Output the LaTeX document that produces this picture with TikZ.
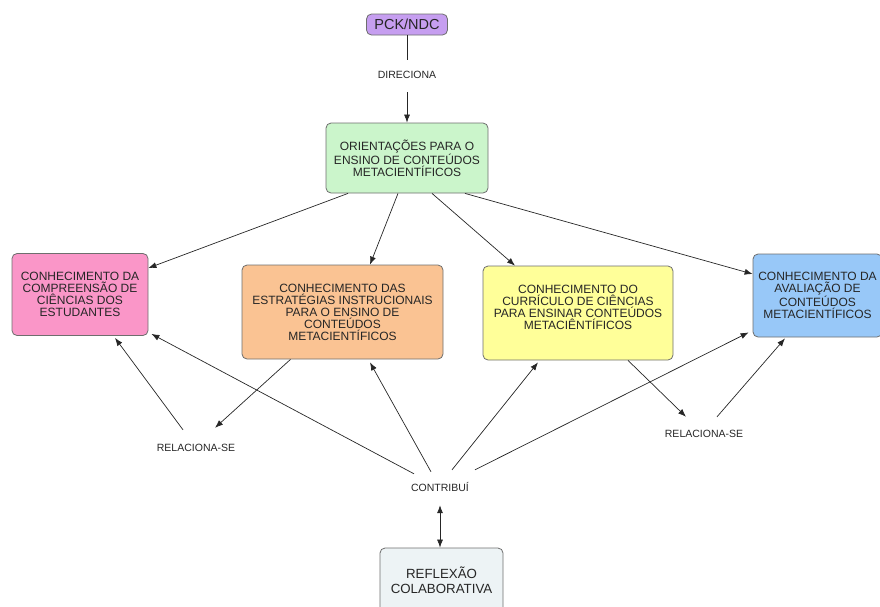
\documentclass[tikz,border=0pt]{standalone}
\usepackage{fontspec}
\setmainfont{Liberation Sans}
\usetikzlibrary{arrows.meta}

\definecolor{inkc}{HTML}{262626}
\definecolor{edgec}{HTML}{6E6E6E}
\definecolor{purplec}{HTML}{C69EF0}
\definecolor{greenc}{HTML}{CBF5CB}
\definecolor{pinkc}{HTML}{FA96C8}
\definecolor{orangec}{HTML}{FAC393}
\definecolor{yellowc}{HTML}{FFFF99}
\definecolor{bluec}{HTML}{98C8F8}
\definecolor{greyc}{HTML}{EDF3F5}

\tikzset{
  box/.style={draw=edgec, line width=0.8pt, rounded corners=5pt, align=center,
    text=inkc, inner sep=2pt, font=\fontsize{12}{12}\selectfont},
  lbl/.style={inner sep=0pt, text height=8pt, text depth=0pt, text=inkc,
    font=\fontsize{10.5}{10.5}\selectfont},
  conn/.style={draw=inkc, line width=0.7pt},
  arr/.style={conn, -{Latex[length=8pt,width=6pt]}},
  darr/.style={conn, {Latex[length=8pt,width=6pt]}-{Latex[length=8pt,width=6pt]}}
}

\begin{document}
\begin{tikzpicture}[x=1pt, y=-1pt]
\useasboundingbox (0,0) rectangle (880,606);

% concept boxes
\node[box, fill=purplec, minimum width=81pt, minimum height=21pt,
  font=\fontsize{14.5}{14.5}\selectfont] (pck) at (407,24.5) {PCK/NDC};
\node[box, fill=greenc, minimum width=162pt, minimum height=70pt] (orient) at (407,158)
  {ORIENTAÇÕES PARA O\\ENSINO DE CONTEÚDOS\\METACIENTÍFICOS};
\node[box, fill=pinkc, minimum width=136pt, minimum height=82pt] (compr) at (80,294.5)
  {CONHECIMENTO DA\\COMPREENSÃO DE\\CIÊNCIAS DOS\\ESTUDANTES};
\node[box, fill=orangec, minimum width=201pt, minimum height=94pt] (estrat) at (342.5,312)
  {CONHECIMENTO DAS\\ESTRATÉGIAS INSTRUCIONAIS\\PARA O ENSINO DE\\CONTEÚDOS\\METACIENTÍFICOS};
\node[box, fill=yellowc, minimum width=190pt, minimum height=94pt] (curric) at (578,313)
  {CONHECIMENTO DO\\CURRÍCULO DE CIÊNCIAS\\PARA ENSINAR CONTEÚDOS\\METACIÊNTÍFICOS\\\mbox{}};
\node[box, fill=bluec, minimum width=129pt, minimum height=83pt] (aval) at (817.5,295.5)
  {CONHECIMENTO DA\\AVALIAÇÃO DE\\CONTEÚDOS\\METACIENTÍFICOS};
\node[box, fill=greyc, minimum width=123pt, minimum height=64pt,
  font=\fontsize{13.3}{15}\selectfont] (reflex) at (441.5,580)
  {REFLEXÃO\\COLABORATIVA};

% linking phrases
\node[lbl] (dir) at (407,74) {DIRECIONA};
\node[lbl] (contrib) at (440,487) {CONTRIBUÍ};
\node[lbl] (relL) at (196,447) {RELACIONA-SE};
\node[lbl] (relR) at (704,433) {RELACIONA-SE};

% PCK/NDC directs the orientations
\draw[conn] (pck.south) -- ([yshift=10pt]dir.north);
\draw[arr] ([yshift=-14pt]dir.south) -- (orient.north);

% orientations towards the four knowledge components
\draw[arr] ([xshift=-59pt]orient.south) -- ([yshift=26.5pt]compr.east);
\draw[arr] ([xshift=-9pt]orient.south) -- ([xshift=27.5pt]estrat.north);
\draw[arr] ([xshift=25pt]orient.south) -- ([xshift=-63pt]curric.north);
\draw[arr] ([xshift=58pt]orient.south) -- ([yshift=21.5pt]aval.west);

% left relation
\draw[arr] ([xshift=-52pt]estrat.south) -- ([xshift=19pt,yshift=15pt]relL.north);
\draw[arr] ([xshift=-13pt,yshift=13pt]relL.north) -- ([xshift=35pt,yshift=-2pt]compr.south);

% right relation
\draw[arr] ([xshift=50pt]curric.south) -- ([xshift=-18pt,yshift=12pt]relR.north);
\draw[arr] ([xshift=13pt,yshift=12pt]relR.north) -- ([xshift=-32.5pt,yshift=-1pt]aval.south);

% contributions of the collaborative reflection
\draw[arr] ([xshift=-26pt,yshift=9pt]contrib.north) -- ([xshift=3pt,yshift=2pt]compr.south east);
\draw[arr] ([xshift=-9pt,yshift=11pt]contrib.north) -- ([xshift=27.5pt,yshift=-3pt]estrat.south);
\draw[arr] ([xshift=12pt,yshift=13pt]contrib.north) -- ([xshift=-40pt,yshift=-2pt]curric.south);
\draw[arr] ([xshift=35pt,yshift=13pt]contrib.north) -- ([xshift=-4pt,yshift=5pt]aval.south west);
\draw[darr] ([yshift=-14pt]contrib.south) -- (contrib.south |- reflex.north);
\end{tikzpicture}
\end{document}
